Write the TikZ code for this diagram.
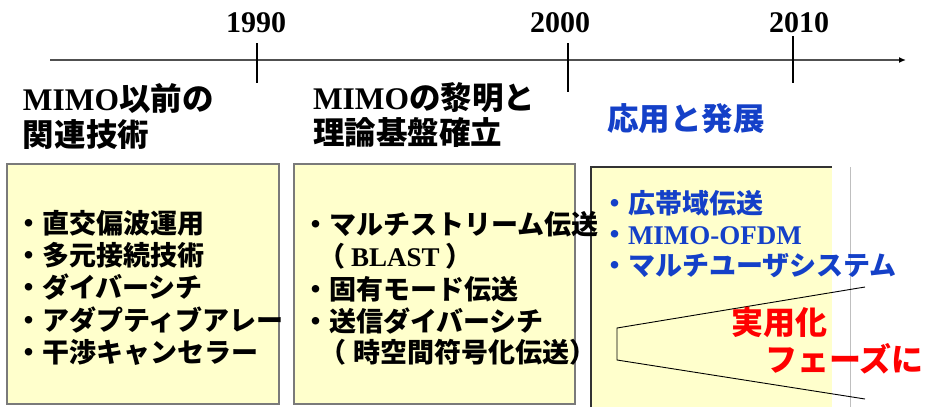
\documentclass[tikz,border=0pt]{standalone}
\usepackage{fontspec}
\setmainfont{Liberation Serif}
\newfontfamily\jp{Noto Sans CJK JP}
\usetikzlibrary{arrows.meta}
\definecolor{boxfill}{HTML}{FFFFCC}
\definecolor{myblue}{HTML}{1440C8}
\definecolor{axisgray}{HTML}{505050}
\definecolor{boxline}{HTML}{7A7A7A}
\newcommand\J[1]{{\jp\bfseries #1}}
\newcommand\T[1]{{\rmfamily\bfseries #1}}
\begin{document}
\begin{tikzpicture}[x=1pt,y=-1pt,
  txt/.style={anchor=base west, inner sep=0pt, outer sep=0pt},
  head/.style={txt, font=\fontsize{31.5}{31.5}\selectfont},
  item/.style={txt, font=\fontsize{27}{27}\selectfont},
  bitem/.style={item, text=myblue},
  redtxt/.style={txt, text=red, font=\fontsize{32}{32}\selectfont},
  year/.style={anchor=base, inner sep=0pt, font=\fontsize{30}{30}\selectfont},
  panel/.style={fill=boxfill, draw=boxline, line width=1.4pt},
  tick/.style={draw=black, line width=1.3pt}]
\useasboundingbox (0,0) rectangle (931,407);
% panels
\path[panel] (7,164) rectangle (279,404);
\path[panel] (294,164) rectangle (575,404);
\fill[boxfill] (591,167) rectangle (832,407);
\draw[black!80, line width=1.2pt] (591,407) -- (591,167) -- (832,167);
\draw[black!25, line width=0.8pt] (850,167) -- (850,407);
% timeline
\coordinate (axL) at (50,60);
\coordinate (axR) at (906,60);
\draw[axisgray, line width=1.6pt, -{Latex[length=7pt,width=6pt,black]}] (axL) -- (axR);
\coordinate (t1a) at (257,43); \coordinate (t1b) at (257,83);
\coordinate (t2a) at (568,43); \coordinate (t2b) at (568,92);
\coordinate (t3a) at (793,36); \coordinate (t3b) at (793,83);
\draw[tick] (t1a) -- (t1b);
\draw[tick] (t2a) -- (t2b);
\draw[tick] (t3a) -- (t3b);
\node[year] (y1990) at (256,32) {\T{1990}};
\node[year] (y2000) at (560,32) {\T{2000}};
\node[year] (y2010) at (799,32) {\T{2010}};
% headings
\node[head] (h1a) at (23,110) {\T{MIMO}\J{以前の}};
\node[head] (h1b) at (23,146) {\J{関連技術}};
\node[head] (h2a) at (313,109) {\T{MIMO}\J{の黎明と}};
\node[head] (h2b) at (313,144) {\J{理論基盤確立}};
\node[head, text=myblue] (h3) at (607,130) {\J{応用と発展}};
% trapezoid
\coordinate (zA) at (617,328);
\coordinate (zB) at (865,287);
\coordinate (zC) at (617,360);
\coordinate (zD) at (865,399);
\draw[black, line width=0.9pt] (zB) -- (zA) -- (zC) -- (zD);
% box 1
\node[item] (a1) at (15,233) {\J{・直交偏波運用}};
\node[item] (a2) at (15,265) {\J{・多元接続技術}};
\node[item] (a3) at (15,297) {\J{・ダイバーシチ}};
\node[item] (a4) at (15,330) {\J{・アダプティブアレー}};
\node[item] (a5) at (15,362) {\J{・干渉キャンセラー}};
% box 2
\node[item] (b1) at (302,234) {\J{・マルチストリーム伝送}};
\node[item] (b2) at (318,266) {\J{（}\hspace{6pt}\T{BLAST}\hspace{6pt}\J{）}};
\node[item] (b3) at (302,299) {\J{・固有モード伝送}};
\node[item] (b4) at (302,331) {\J{・送信ダイバーシチ}};
\node[item] (b5) at (319,362) {\J{（}\hspace{8pt}\J{時空間符号化伝送）}};
% box 3
\node[bitem] (c1) at (601,213) {\J{・広帯域伝送}};
\node[bitem] (c2) at (601,244) {\J{・}\T{MIMO-OFDM}};
\node[bitem] (c3) at (601,275) {\J{・マルチユーザシステム}};
% red
\node[redtxt] (r1) at (731,334) {\J{実用化}};
\node[redtxt] (r2) at (765,371) {\J{フェーズに}};
\end{tikzpicture}
\end{document}
